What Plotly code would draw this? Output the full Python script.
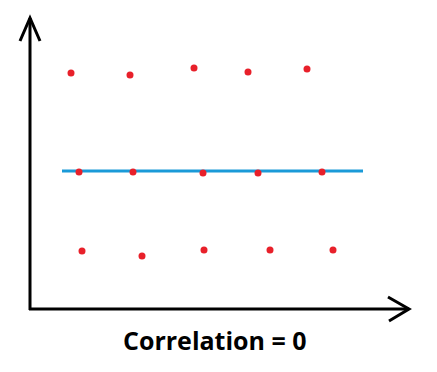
import plotly.graph_objects as go

# Data (in chart units; origin at the axes corner)
top_x = [41, 100, 164, 218, 277]
top_y = [236, 234, 241, 237, 240]
mid_x = [49, 103, 173, 228, 292]
mid_y = [137, 137, 136, 136, 137]
bot_x = [52, 112, 174, 240, 303]
bot_y = [58, 53, 59, 59, 59]
fit_x = [32, 333]
fit_y = [138, 138]
caption = "Correlation = 0"

RED = "#e8202a"
BLUE = "#1a9ad8"

fig = go.Figure()
fig.add_trace(go.Scatter(x=fit_x, y=fit_y, mode="lines",
                         line=dict(color=BLUE, width=3), hoverinfo="skip"))
xs = top_x + mid_x + bot_x
ys = top_y + mid_y + bot_y
fig.add_trace(go.Scatter(x=xs, y=ys, mode="markers",
                         marker=dict(color=RED, size=7, line=dict(width=0))))

blk = dict(color="black", width=3)
shapes = [
    dict(type="line", x0=0, y0=-1, x1=0, y1=291, line=blk),
    dict(type="line", x0=-1, y0=0, x1=379, y1=0, line=blk),
    dict(type="path", path="M -10,268 L 0,291 L 10,268", line=blk),
    dict(type="path", path="M 358,12 L 379,0 L 359,-12", line=blk),
]

# page body has an 8px margin, so the figure is offset by 8px
fig.update_layout(
    width=437, height=372,
    margin=dict(l=0, r=0, t=0, b=0),
    paper_bgcolor="white", plot_bgcolor="white",
    showlegend=False,
    xaxis=dict(range=[-22, 415], visible=False, fixedrange=True),
    yaxis=dict(range=[-71, 301], visible=False, fixedrange=True),
    shapes=shapes,
    annotations=[dict(x=185, y=-31, xref="x", yref="y", text="<b>" + caption + "</b>",
                      showarrow=False,
                      font=dict(family="Open Sans", size=25, color="black"),
                      xanchor="center", yanchor="middle")],
)

fig.write_html("out.html")
